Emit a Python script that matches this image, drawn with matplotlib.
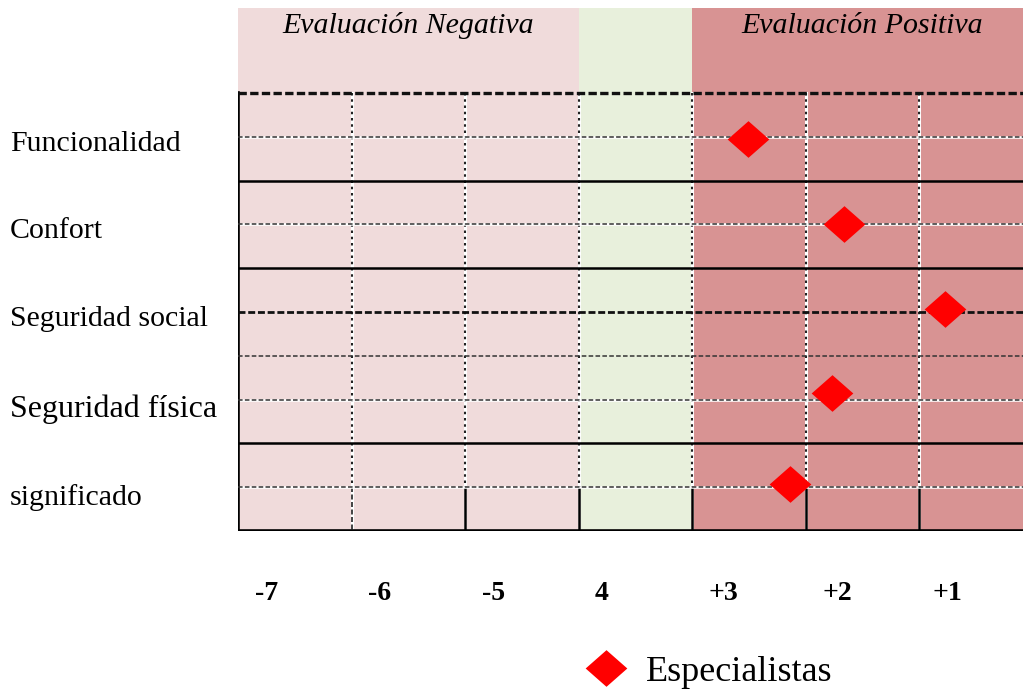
import matplotlib.pyplot as plt
import matplotlib.transforms as mtransforms

# data
categories = ["Funcionalidad", "Confort", "Seguridad social", "Seguridad física", "significado"]
scale_labels = ["-7", "-6", "-5", "4", "+3", "+2", "+1"]
# marker positions in column units (0 = left edge of "-7" column) and row units
esp_x = [4.49, 5.34, 6.23, 5.23, 4.86]
esp_y = [0.53, 1.50, 2.47, 3.43, 4.46]
series_name = "Especialistas"

NEG_COL = "#F0DBDB"
MID_COL = "#E8F0DC"
POS_COL = "#D89393"

fig = plt.figure(figsize=(10.23, 6.91), dpi=100)
ax = fig.add_axes([238 / 1023, 1 - 531 / 691, 1 - 238 / 1023, (531 - 8) / 691])
x_max = (1023 - 238) / 113.5
head = -85 / 87.6
ax.set_xlim(0, x_max)
ax.set_ylim(5, head)
for s in ax.spines.values():
    s.set_visible(False)

# background bands
ax.axvspan(0, 3, color=NEG_COL, lw=0, zorder=0)
ax.axvspan(3, 4, color=MID_COL, lw=0, zorder=0)
ax.axvspan(4, x_max, color=POS_COL, lw=0, zorder=0)

# vertical grid lines
for xv in range(1, 7):
    ax.plot([xv, xv], [0, 5], color="white", lw=2.2, zorder=1)
    ax.plot([xv, xv], [0, 4.5], color="#222222", lw=1.5, ls=(0, (1.2, 1.8)), zorder=2)
    if xv == 1:
        ax.plot([xv, xv], [4.5, 5], color="#222222", lw=1.2, ls=(0, (3, 1.5)), zorder=2)
    else:
        ax.plot([xv, xv], [4.5, 5], color="black", lw=1.8, zorder=2)
ax.plot([0, 0], [0, 5], color="black", lw=2.6, zorder=3)

# horizontal lines
ax.plot([0, x_max], [0, 0], color="#111111", lw=2.4, ls=(0, (2.5, 1)), zorder=3)
for yv in [1, 2, 4]:
    ax.plot([0, x_max], [yv, yv], color="black", lw=1.8, zorder=3)
ax.plot([0, x_max], [3, 3], color="#333333", lw=1.1, ls=(0, (3, 1.5)), zorder=3)
ax.plot([0, x_max], [5, 5], color="black", lw=2.6, zorder=3)
for i in range(5):
    yc = i + 0.5
    if i == 2:
        ax.plot([0, x_max], [yc, yc], color="#111111", lw=2.0, ls=(0, (2.5, 1)), zorder=3)
    else:
        ax.plot([0, x_max], [yc, yc], color="white", lw=1.8, zorder=2)
        ax.plot([0, x_max], [yc, yc], color="#333333", lw=1.1, ls=(0, (3, 1.5)), zorder=3)

# markers
diamond = [(-1, 0), (0, 0.88), (1, 0), (0, -0.88), (-1, 0)]
ax.plot(esp_x, esp_y, ls="none", marker=diamond, ms=30, color="red",
        markeredgewidth=0, zorder=5, label=series_name)

# header texts
ax.text(1.5, head + 0.2, "Evaluación Negativa", ha="center", va="center",
        fontsize=21.5, style="italic", family="Liberation Serif", zorder=4)
ax.text(5.5, head + 0.2, "Evaluación Positiva", ha="center", va="center",
        fontsize=21.5, style="italic", family="Liberation Serif", zorder=4)

# category labels
trans = mtransforms.blended_transform_factory(fig.transFigure, ax.transData)
for i, cat in enumerate(categories):
    fs = 23 if cat == "Seguridad física" else 21.5
    off = 0.16 if i < 3 else 0.2
    ax.text(10 / 1023, i + 0.5 + off, cat, transform=trans, ha="left",
            va="baseline", fontsize=fs, family="Liberation Serif")

# scale labels
tick_pos = [0.25, 1.25, 2.25, 3.2, 4.28, 5.28, 6.25]
ax.set_xticks(tick_pos)
ax.set_xticklabels(scale_labels, fontsize=20, fontweight="bold", family="Liberation Serif")
ax.tick_params(axis="x", length=0, pad=36)
ax.set_yticks([])

fig.legend(loc="center", bbox_to_anchor=(710 / 1023, 1 - 672 / 691), frameon=False,
           prop={"family": "Liberation Serif", "size": 26}, markerscale=1.0,
           handletextpad=0.6, handlelength=1.0)

fig.savefig("out.png", dpi=100)
